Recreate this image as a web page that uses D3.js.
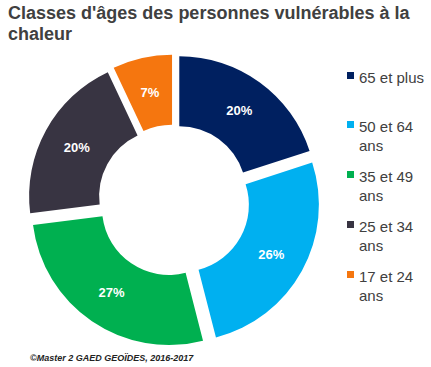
<!DOCTYPE html>
<html><head><meta charset="utf-8">
<script src="https://cdn.jsdelivr.net/npm/d3@7"></script>
<style>body{margin:0;background:#fff}svg{display:block}</style>
</head><body>
<svg id="c" width="431" height="367"></svg>
<script>
const categories = ["65 et plus", "50 et 64 ans", "35 et 49 ans", "25 et 34 ans", "17 et 24 ans"];
const legendLines = [["65 et plus"], ["50 et 64", "ans"], ["35 et 49", "ans"], ["25 et 34", "ans"], ["17 et 24", "ans"]];
const values = [20, 26, 27, 20, 7];
const colors = ["#002060", "#00B0F0", "#00B050", "#383442", "#F5760F"];
const titleLines = ["Classes d'âges des personnes vulnérables à la", "chaleur"];
const footer = "©Master 2 GAED GEOÏDES, 2016-2017";

const svg = d3.select("#c");
const cx = 174, cy = 200.5, R = 137, r = 67, explode = 9;

svg.append("g").selectAll("text").data(titleLines).join("text")
  .attr("x", 8).attr("y", (d, i) => 19 + i * 21)
  .attr("font-family", "Liberation Sans, Arial, sans-serif")
  .attr("font-weight", "bold").attr("font-size", 18).attr("fill", "#404040")
  .text(d => d);

const pie = d3.pie().sort(null).value(d => d)(values);
const arc = d3.arc().innerRadius(r).outerRadius(R);
const g = svg.append("g").attr("transform", `translate(${cx},${cy})`);
const slice = g.selectAll("g.s").data(pie).join("g").attr("class", "s")
  .attr("transform", d => {
    const a = (d.startAngle + d.endAngle) / 2;
    return `translate(${Math.sin(a) * explode},${-Math.cos(a) * explode})`;
  });
slice.append("path").attr("d", arc).attr("fill", (d, i) => colors[i]);
slice.append("text")
  .attr("transform", d => `translate(${arc.centroid(d)})`)
  .attr("text-anchor", "middle").attr("dy", "0.35em")
  .attr("font-family", "Liberation Sans, Arial, sans-serif")
  .attr("font-weight", "bold").attr("font-size", 13).attr("fill", "#fff")
  .text(d => d.data + "%");

const legendY = [78, 127, 177, 227, 277];
const lg = svg.append("g").selectAll("g").data(categories).join("g")
  .attr("transform", (d, i) => `translate(347,${legendY[i]})`);
lg.append("rect").attr("x", 0).attr("y", -6).attr("width", 7).attr("height", 7)
  .attr("fill", (d, i) => colors[i]);
lg.each(function (d, i) {
  d3.select(this).selectAll("text").data(legendLines[i]).join("text")
    .attr("x", 12).attr("y", (t, j) => j * 18.5).attr("dy", "0.35em")
    .attr("font-family", "Liberation Sans, Arial, sans-serif")
    .attr("font-size", 15).attr("fill", "#404040")
    .text(t => t);
});

svg.append("text").attr("x", 30).attr("y", 361)
  .attr("font-family", "Liberation Sans, Arial, sans-serif")
  .attr("font-style", "italic").attr("font-weight", "bold")
  .attr("font-size", 9).attr("fill", "#222")
  .text(footer);
</script>
</body></html>
